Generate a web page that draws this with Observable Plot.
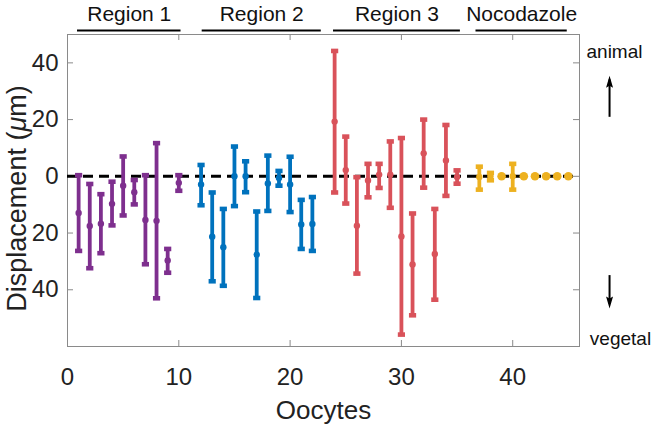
<!DOCTYPE html>
<html>
<head>
<meta charset="utf-8">
<script src="https://cdn.jsdelivr.net/npm/d3@7"></script>
<script src="https://cdn.jsdelivr.net/npm/@observablehq/plot@0.6"></script>
<style>
  html, body { margin: 0; padding: 0; background: #fff; }
</style>
</head>
<body>
<div id="chart"></div>
<script>
// ---- data ----
const r1X    = [1, 2, 3, 4, 5, 6, 7, 8, 9, 10];
const r1Mid  = [-12.9, -17.5, -16.7, -9.7, -3.3, -5.6, -15.4, -15.7, -29.7, -2.3];
const r1High = [0.4, -2.7, -6.3, -1.9, 7.0, -1.3, 0.4, 11.7, -25.6, 0.4];
const r1Low  = [-26.3, -32.4, -27.1, -17.3, -13.8, -9.9, -31.0, -43.0, -34.0, -5.1];

const r2X    = [12, 13, 14, 15, 16, 17, 18, 19, 20, 21, 22];
const r2Mid  = [-2.9, -21.3, -25.0, 0.0, 0.0, -27.6, -2.5, -0.6, -2.9, -17.0, -16.8];
const r2High = [4.0, -5.7, -11.5, 10.5, 5.3, -12.4, 7.3, 1.9, 6.9, -8.3, -7.3];
const r2Low  = [-10.2, -37.0, -38.6, -10.5, -5.6, -42.9, -12.2, -3.3, -12.6, -25.6, -26.3];

const r3X    = [24, 25, 26, 27, 28, 29, 30, 31, 32, 33, 34, 35];
const r3Mid  = [19.3, 2.2, -17.4, -1.5, 0.6, 0.6, -21.2, -31.1, 8.1, -27.4, 5.6, -0.2];
const r3High = [44.2, 14.0, -0.3, 4.4, 4.4, 12.3, 13.5, -13.1, 20.0, -11.5, 18.1, 2.1];
const r3Low  = [-5.7, -9.6, -34.3, -7.4, -4.1, -11.1, -55.8, -49.0, -4.0, -43.5, -6.9, -2.6];

const nocX    = [37, 38, 39, 40, 41, 42, 43, 44, 45];
const nocMid  = [-0.2, 0, 0, 0, 0, 0, 0, 0, 0];
const nocHigh = [3.4, 1.2, 0, 4.4, 0, 0, 0, 0, 0];
const nocLow  = [-4.7, -1.4, 0, -4.7, 0, 0, 0, 0, 0];

const groupNames  = ["Region 1", "Region 2", "Region 3", "Nocodazole"];
const groupStart  = [0.9, 12.1, 23.9, 36.7];
const groupEnd    = [10.2, 22.8, 35.3, 44.9];
const groupColors = ["#7E2F8E", "#0072BD", "#D9525A", "#EDB120"];

const xTicks = [0, 10, 20, 30, 40];
const yTicks = [-40, -20, 0, 20, 40];

const arrowX = 48.7;
const arrowUp = [20.8, 35.5];
const arrowDown = [-35.0, -46.6];

// ---- build table ----
const sets = [
  [r1X, r1Mid, r1High, r1Low],
  [r2X, r2Mid, r2High, r2Low],
  [r3X, r3Mid, r3High, r3Low],
  [nocX, nocMid, nocHigh, nocLow]
];
const rows = [];
sets.forEach(([xs, mids, highs, lows], g) => {
  xs.forEach((x, i) => rows.push({
    x, mid: mids[i], hi: highs[i], lo: lows[i],
    color: groupColors[g], bar: highs[i] !== lows[i]
  }));
});
const bars = rows.filter(d => d.bar);
const plain = rows.filter(d => !d.bar);
const groups = groupNames.map((name, i) => ({
  name, x1: groupStart[i], x2: groupEnd[i], xm: (groupStart[i] + groupEnd[i]) / 2
}));

const capSymbol = {draw(ctx) { ctx.rect(-3.6, -2.3, 7.2, 4.6); }};
const headUp = {draw(ctx) { ctx.moveTo(0, -7); ctx.lineTo(3.5, 5); ctx.lineTo(0, 3); ctx.lineTo(-3.5, 5); ctx.closePath(); }};
const headDown = {draw(ctx) { ctx.moveTo(0, 7); ctx.lineTo(3.5, -5); ctx.lineTo(0, -3); ctx.lineTo(-3.5, -5); ctx.closePath(); }};

const FONT = "'Liberation Sans', Arial, Helvetica, sans-serif";
const innerW = 654 - 67 - 75;
const innerH = 428 - 34 - 82;
const tickLen = 6;
const axisGray = "#8a8a8a";

const chart = Plot.plot({
  width: 654,
  height: 428,
  marginLeft: 67,
  marginRight: 75,
  marginTop: 34,
  marginBottom: 82,
  style: {fontFamily: FONT, background: "#fff", color: "#222"},
  x: {domain: [0, 46]},
  y: {domain: [-60, 50]},
  color: {type: "identity"},
  marks: [
    Plot.frame({stroke: axisGray, strokeWidth: 1}),
    // inward tick marks on all four sides
    Plot.tickX(xTicks, {x: d => d, stroke: axisGray, insetTop: innerH - tickLen}),
    Plot.tickX(xTicks, {x: d => d, stroke: axisGray, insetBottom: innerH - tickLen}),
    Plot.tickY(yTicks, {y: d => d, stroke: axisGray, insetRight: innerW - tickLen}),
    Plot.tickY(yTicks, {y: d => d, stroke: axisGray, insetLeft: innerW - tickLen}),
    Plot.axisX({ticks: xTicks, tickSize: 0, tickPadding: 21, fontSize: 24, label: null, fill: "#222"}),
    Plot.axisY({ticks: yTicks, tickSize: 0, tickPadding: 9, fontSize: 24, label: null,
                tickFormat: d => String(Math.abs(d)), fill: "#222"}),
    // zero line
    Plot.ruleY([0], {stroke: "#000", strokeWidth: 3, strokeDasharray: "10,6"}),
    // error bars
    Plot.ruleX(bars, {x: "x", y1: "lo", y2: "hi", stroke: "color", strokeWidth: 3.8}),
    Plot.dot(bars, {x: "x", y: "hi", symbol: capSymbol, fill: "color", r: 4}),
    Plot.dot(bars, {x: "x", y: "lo", symbol: capSymbol, fill: "color", r: 4}),
    Plot.dot(bars, {x: "x", y: "mid", fill: "color", r: 3.2}),
    Plot.dot(plain, {x: "x", y: "mid", fill: "color", r: 4.3}),
    // group headers
    Plot.ruleY(groups, {y: 50, x1: "x1", x2: "x2", dy: -4, stroke: "#000", strokeWidth: 2}),
    Plot.text(groups, {x: "xm", y: 50, text: "name", dy: -20, fontSize: 21, fill: "#111", lineAnchor: "middle"}),
    // animal / vegetal annotation
    Plot.text(["animal"], {frameAnchor: "top-right", dx: 35, dy: 17, textAnchor: "middle", lineAnchor: "middle", fontSize: 19, fill: "#111"}),
    Plot.text(["vegetal"], {frameAnchor: "bottom-right", dx: 41, dy: -8, textAnchor: "middle", lineAnchor: "middle", fontSize: 19, fill: "#111"}),
    Plot.ruleX([arrowX], {x: d => d, y1: arrowUp[0], y2: arrowUp[1] - 1.5, stroke: "#000", strokeWidth: 2}),
    Plot.ruleX([arrowX], {x: d => d, y1: arrowDown[0], y2: arrowDown[1] + 1.5, stroke: "#000", strokeWidth: 2}),
    Plot.dot([arrowX], {x: d => d, y: arrowUp[1] - 2.5, symbol: headUp, fill: "#000", r: 5}),
    Plot.dot([arrowX], {x: d => d, y: arrowDown[1] + 2.5, symbol: headDown, fill: "#000", r: 5}),
    // axis titles
    Plot.text(["Oocytes"], {frameAnchor: "bottom", dy: 64, lineAnchor: "middle", textAnchor: "middle", fontSize: 26, fill: "#222"}),
    Plot.text(["Displacement (μm)"], {frameAnchor: "left", dx: -50, dy: 8, rotate: -90, textAnchor: "middle", lineAnchor: "middle", fontSize: 27, fill: "#222"})
  ]
});

// italic mu in the y-axis title
const yt = [...chart.querySelectorAll("text")].find(e => e.textContent === "Displacement (μm)");
if (yt) {
  yt.textContent = "";
  const ns = "http://www.w3.org/2000/svg";
  [["Displacement (", null], ["μ", "italic"], ["m)", null]].forEach(([s, st]) => {
    const ts = document.createElementNS(ns, "tspan");
    ts.textContent = s;
    if (st) ts.setAttribute("font-style", st);
    yt.appendChild(ts);
  });
}
document.getElementById("chart").appendChild(chart);
</script>
</body>
</html>
